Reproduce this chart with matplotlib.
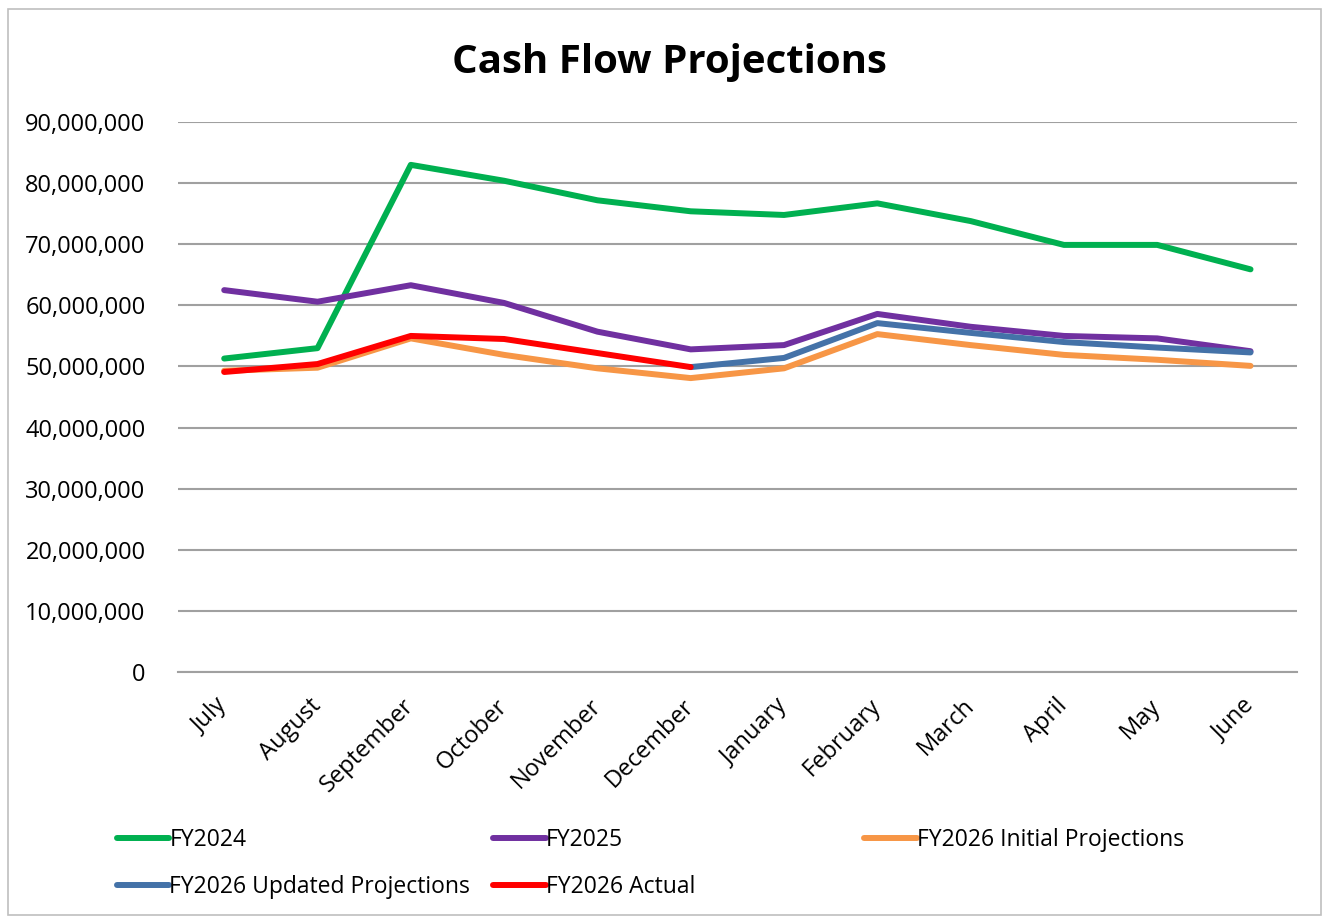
import matplotlib.pyplot as plt
import numpy as np
from matplotlib.patches import Rectangle
from matplotlib.ticker import FuncFormatter

plt.rcParams['font.family'] = ['Open Sans', 'DejaVu Sans']

# Months of the fiscal year
months = ['July', 'August', 'September', 'October', 'November', 'December',
          'January', 'February', 'March', 'April', 'May', 'June']

# Values (millions of dollars)
fy2024 = [51.3, 53.0, 83.0, 80.4, 77.2, 75.4, 74.8, 76.7, 73.8, 69.9, 69.9, 65.9]
fy2025 = [62.5, 60.6, 63.3, 60.4, 55.7, 52.8, 53.5, 58.6, 56.5, 55.0, 54.6, 52.5]
fy2026_initial = [49.3, 49.8, 54.6, 51.9, 49.7, 48.1, 49.7, 55.3, 53.5, 51.9, 51.1, 50.1]
fy2026_updated = [None, None, None, None, None, 49.9, 51.4, 57.1, 55.5, 54.0, 53.1, 52.3]
fy2026_actual = [49.1, 50.4, 55.0, 54.5, 52.2, 49.9, None, None, None, None, None, None]

series = [
    ('FY2024', fy2024, '#00B050'),
    ('FY2025', fy2025, '#7030A0'),
    ('FY2026 Initial Projections', fy2026_initial, '#F79646'),
    ('FY2026 Updated Projections', fy2026_updated, '#4472A8'),
    ('FY2026 Actual', fy2026_actual, '#FF0000'),
]

fig = plt.figure(figsize=(13.25, 9.18), dpi=100)
ax = fig.add_axes([0.134, 0.268, 0.845, 0.599])

x = np.arange(len(months))
handles = []
for name, vals, color in series:
    y = np.array([np.nan if v is None else v * 1e6 for v in vals])
    h, = ax.plot(x, y, color=color, lw=4.3, solid_capstyle='round',
                 solid_joinstyle='round', label=name)
    handles.append(h)

ax.set_xlim(-0.5, len(months) - 0.5)
ax.set_ylim(0, 90e6)
ax.set_yticks(np.arange(0, 90e6 + 1, 10e6))
ax.yaxis.set_major_formatter(FuncFormatter(lambda v, p: f'{int(v):,}'))
ax.set_xticks(x)
ax.set_xticklabels(months, rotation=45, ha='right', va='center',
                   rotation_mode='anchor')
ax.grid(axis='y', color='#a0a0a0', lw=1.5)
ax.set_axisbelow(True)
for s in ['left', 'right', 'top']:
    ax.spines[s].set_visible(False)
ax.spines['bottom'].set_color('#a0a0a0')
ax.spines['bottom'].set_linewidth(1.5)
ax.tick_params(axis='y', length=0, pad=23, labelsize=17)
ax.tick_params(axis='x', length=0, pad=22, labelsize=17)

fig.text(0.505, 0.932, 'Cash Flow Projections', ha='center', va='center',
         fontsize=29, fontweight='bold')

# Legend laid out in fixed-width columns like the spreadsheet original
cols = [[0, 3], [1, 4], [2]]
col_x = [0.088, 0.372, 0.652]
for cx, idx in zip(col_x, cols):
    fig.legend([handles[i] for i in idx], [series[i][0] for i in idx],
               loc='upper left', bbox_to_anchor=(cx, 0.098), frameon=False,
               fontsize=16.5, handlelength=2.3, handletextpad=0.0,
               labelspacing=1.0, borderaxespad=0, borderpad=0)

fig.patches.append(Rectangle((0.006, 0.003), 0.991, 0.987, transform=fig.transFigure,
                             fill=False, edgecolor='#bfbfbf', lw=1.2))

fig.savefig('out.png', dpi=100)
